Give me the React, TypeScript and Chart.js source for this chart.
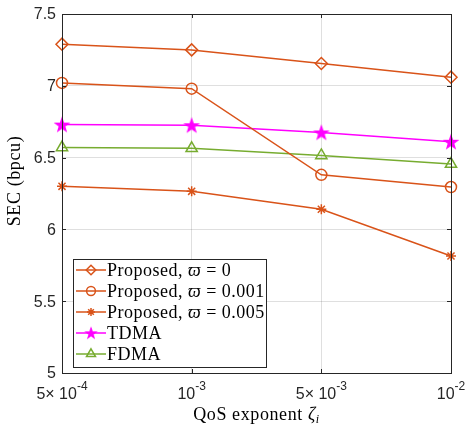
import { useEffect, useRef } from 'react';
import { Chart, registerables } from 'chart.js';
import { drawPoint } from 'chart.js/helpers';

Chart.register(...registerables);

// QoS exponent values on the x axis (base^exponent)
const categories = ['5× 10^-4', '10^-3', '5× 10^-3', '10^-2'];
const yTicks = [5, 5.5, 6, 6.5, 7, 7.5];

const seriesNames = [
  'Proposed, ϖ = 0',
  'Proposed, ϖ = 0.001',
  'Proposed, ϖ = 0.005',
  'TDMA',
  'FDMA',
];
const proposed0 = [7.29, 7.25, 7.155, 7.06];
const proposed001 = [7.02, 6.98, 6.38, 6.295];
const proposed005 = [6.3, 6.265, 6.14, 5.815];
const tdma = [6.73, 6.725, 6.675, 6.61];
const fdma = [6.57, 6.565, 6.515, 6.455];

const ORANGE = '#D95319';
const MAGENTA = '#FF00FF';
const GREEN = '#77AC30';
const AXIS = '#262626';
const SANS = "'Liberation Sans', Arial, sans-serif";
const SERIF = "'Liberation Serif', 'DejaVu Serif', serif";

function makePentagram(color: string, outer: number): HTMLCanvasElement {
  const size = Math.ceil(outer * 2 + 4);
  const c = document.createElement('canvas');
  c.width = size;
  c.height = size;
  const ctx = c.getContext('2d')!;
  const cx = size / 2;
  const cy = size / 2 + outer * 0.1;
  const inner = outer * 0.4;
  ctx.beginPath();
  for (let i = 0; i < 10; i++) {
    const r = i % 2 === 0 ? outer : inner;
    const a = -Math.PI / 2 + (i * Math.PI) / 5;
    const x = cx + r * Math.cos(a);
    const y = cy + r * Math.sin(a);
    if (i === 0) ctx.moveTo(x, y);
    else ctx.lineTo(x, y);
  }
  ctx.closePath();
  ctx.fillStyle = color;
  ctx.strokeStyle = color;
  ctx.lineWidth = 1.2;
  ctx.fill();
  ctx.stroke();
  return c;
}

function setSpacing(ctx: CanvasRenderingContext2D, v: string) {
  (ctx as any).letterSpacing = v;
}

// Axis box, inward ticks, tick labels, titles and the inset legend
const decorPlugin = {
  id: 'decor',
  afterDraw(chart: any) {
    const ctx: CanvasRenderingContext2D = chart.ctx;
    const { left, right, top, bottom } = chart.chartArea;
    const xs = chart.scales.x;
    const ys = chart.scales.y;
    ctx.save();

    // box
    ctx.strokeStyle = AXIS;
    ctx.lineWidth = 1;
    ctx.strokeRect(Math.round(left) + 0.5, Math.round(top) + 0.5, Math.round(right - left), Math.round(bottom - top));

    // inward ticks
    const tl = 4;
    ctx.beginPath();
    categories.forEach((_, i) => {
      const x = Math.round(xs.getPixelForValue(i)) + 0.5;
      ctx.moveTo(x, bottom);
      ctx.lineTo(x, bottom - tl);
      ctx.moveTo(x, top);
      ctx.lineTo(x, top + tl);
    });
    yTicks.forEach((v) => {
      const y = Math.round(ys.getPixelForValue(v)) + 0.5;
      ctx.moveTo(left, y);
      ctx.lineTo(left + tl, y);
      ctx.moveTo(right, y);
      ctx.lineTo(right - tl, y);
    });
    ctx.stroke();

    // y tick labels
    ctx.fillStyle = AXIS;
    ctx.font = `16px ${SANS}`;
    ctx.textAlign = 'right';
    ctx.textBaseline = 'middle';
    yTicks.forEach((v) => {
      ctx.fillText(String(v), left - 6, ys.getPixelForValue(v) + 1);
    });

    // x tick labels with superscript exponents
    ctx.textAlign = 'left';
    ctx.textBaseline = 'alphabetic';
    categories.forEach((lab, i) => {
      const [base, exp] = lab.split('^');
      ctx.font = `16px ${SANS}`;
      const bw = ctx.measureText(base).width;
      ctx.font = `12px ${SANS}`;
      const ew = ctx.measureText(exp).width;
      const x0 = xs.getPixelForValue(i) - (bw + ew) / 2;
      ctx.font = `16px ${SANS}`;
      ctx.fillText(base, x0, bottom + 26);
      ctx.font = `12px ${SANS}`;
      ctx.fillText(exp, x0 + bw, bottom + 17);
    });

    // x title: QoS exponent ζ_i
    ctx.fillStyle = '#000';
    setSpacing(ctx, '0.6px');
    const t1 = 'QoS exponent ';
    ctx.font = `18px ${SERIF}`;
    const w1 = ctx.measureText(t1).width;
    ctx.font = `italic 18px ${SERIF}`;
    const w2 = ctx.measureText('ζ').width;
    ctx.font = `italic 12px ${SERIF}`;
    const w3 = ctx.measureText('i').width;
    const cx = (left + right) / 2;
    let tx = cx - (w1 + w2 + w3) / 2;
    const ty = bottom + 47;
    ctx.font = `18px ${SERIF}`;
    ctx.fillText(t1, tx, ty);
    tx += w1;
    ctx.font = `italic 18px ${SERIF}`;
    ctx.fillText('ζ', tx, ty);
    tx += w2;
    ctx.font = `italic 12px ${SERIF}`;
    ctx.fillText('i', tx, ty + 3);

    // y title
    ctx.save();
    ctx.translate(15, 181);
    ctx.rotate(-Math.PI / 2);
    ctx.font = `18px ${SERIF}`;
    ctx.textAlign = 'center';
    ctx.textBaseline = 'middle';
    ctx.fillText('SEC (bpcu)', 0, 0);
    ctx.restore();
    setSpacing(ctx, '0px');

    // legend
    const lx = left + 11;
    const lw = 193;
    const rowH = 21;
    const lh = 108;
    const ly = bottom - 6 - lh;
    ctx.fillStyle = '#fff';
    ctx.fillRect(lx, ly, lw, lh);
    ctx.strokeStyle = AXIS;
    ctx.lineWidth = 1;
    ctx.strokeRect(Math.round(lx) + 0.5, Math.round(ly) + 0.5, lw, lh);
    chart.data.datasets.forEach((ds: any, i: number) => {
      const y = ly + 11 + i * rowH;
      const x1 = lx + 3;
      const x2 = lx + 33;
      ctx.strokeStyle = ds.borderColor;
      ctx.lineWidth = ds.borderWidth;
      ctx.beginPath();
      ctx.moveTo(x1, y);
      ctx.lineTo(x2, y);
      ctx.stroke();
      const mx = (x1 + x2) / 2;
      if (ds.pointStyle instanceof HTMLCanvasElement) {
        const img = ds.pointStyle as HTMLCanvasElement;
        const s = 0.8;
        ctx.drawImage(img, mx - (img.width * s) / 2, y - (img.height * s) / 2, img.width * s, img.height * s);
      } else {
        ctx.fillStyle = 'rgba(0,0,0,0)';
        ctx.strokeStyle = ds.pointBorderColor;
        ctx.lineWidth = ds.pointBorderWidth;
        drawPoint(ctx, { pointStyle: ds.pointStyle, radius: ds.pointRadius * 0.8, rotation: 0, borderWidth: ds.pointBorderWidth }, mx, y);
      }
      // label, with ϖ set in italic
      ctx.fillStyle = '#000';
      ctx.textBaseline = 'middle';
      ctx.textAlign = 'left';
      setSpacing(ctx, '0.5px');
      const parts = String(ds.label).split('ϖ');
      let px = x2 + 1;
      parts.forEach((p, k) => {
        ctx.font = `18px ${SERIF}`;
        ctx.fillText(p, px, y + 1);
        px += ctx.measureText(p).width;
        if (k < parts.length - 1) {
          ctx.font = `italic 18px ${SERIF}`;
          ctx.fillText('ϖ', px, y + 1);
          px += ctx.measureText('ϖ').width;
        }
      });
      setSpacing(ctx, '0px');
    });

    ctx.restore();
  },
};

export default function App() {
  const ref = useRef<HTMLCanvasElement | null>(null);

  useEffect(() => {
    document.body.style.margin = '0';
    const canvas = ref.current;
    if (!canvas) return;
    const star = makePentagram(MAGENTA, 7);
    const mk = (label: string, data: number[], color: string, style: any, radius: number) => ({
      label,
      data,
      borderColor: color,
      backgroundColor: color,
      borderWidth: 1.5,
      pointStyle: style,
      pointRadius: radius,
      pointBorderColor: color,
      pointBackgroundColor: 'rgba(0,0,0,0)',
      pointBorderWidth: 1.5,
      tension: 0,
    });
    const chart = new Chart(canvas, {
      type: 'line',
      data: {
        labels: categories,
        datasets: [
          mk(seriesNames[0], proposed0, ORANGE, 'rectRot', 6),
          mk(seriesNames[1], proposed001, ORANGE, 'circle', 5.5),
          mk(seriesNames[2], proposed005, ORANGE, 'star', 5),
          mk(seriesNames[3], tdma, MAGENTA, star, 7),
          mk(seriesNames[4], fdma, GREEN, 'triangle', 6.5),
        ],
      },
      options: {
        responsive: false,
        animation: false,
        devicePixelRatio: 1,
        layout: { padding: { top: 14, right: 17, left: 0, bottom: 0 } },
        plugins: {
          legend: { display: false },
          tooltip: { enabled: false },
        },
        scales: {
          x: {
            type: 'category',
            offset: false,
            border: { display: false },
            grid: { color: 'rgba(38,38,38,0.15)', lineWidth: 1, drawTicks: false },
            ticks: { display: false },
            afterFit: (s: any) => {
              s.height = 53;
            },
          },
          y: {
            type: 'linear',
            min: 5,
            max: 7.5,
            border: { display: false },
            grid: { color: 'rgba(38,38,38,0.15)', lineWidth: 1, drawTicks: false },
            ticks: { display: false, stepSize: 0.5 },
            afterFit: (s: any) => {
              s.width = 62;
            },
          },
        },
      },
      plugins: [decorPlugin],
    });
    return () => chart.destroy();
  }, []);

  return <canvas ref={ref} width={468} height={426} />;
}
